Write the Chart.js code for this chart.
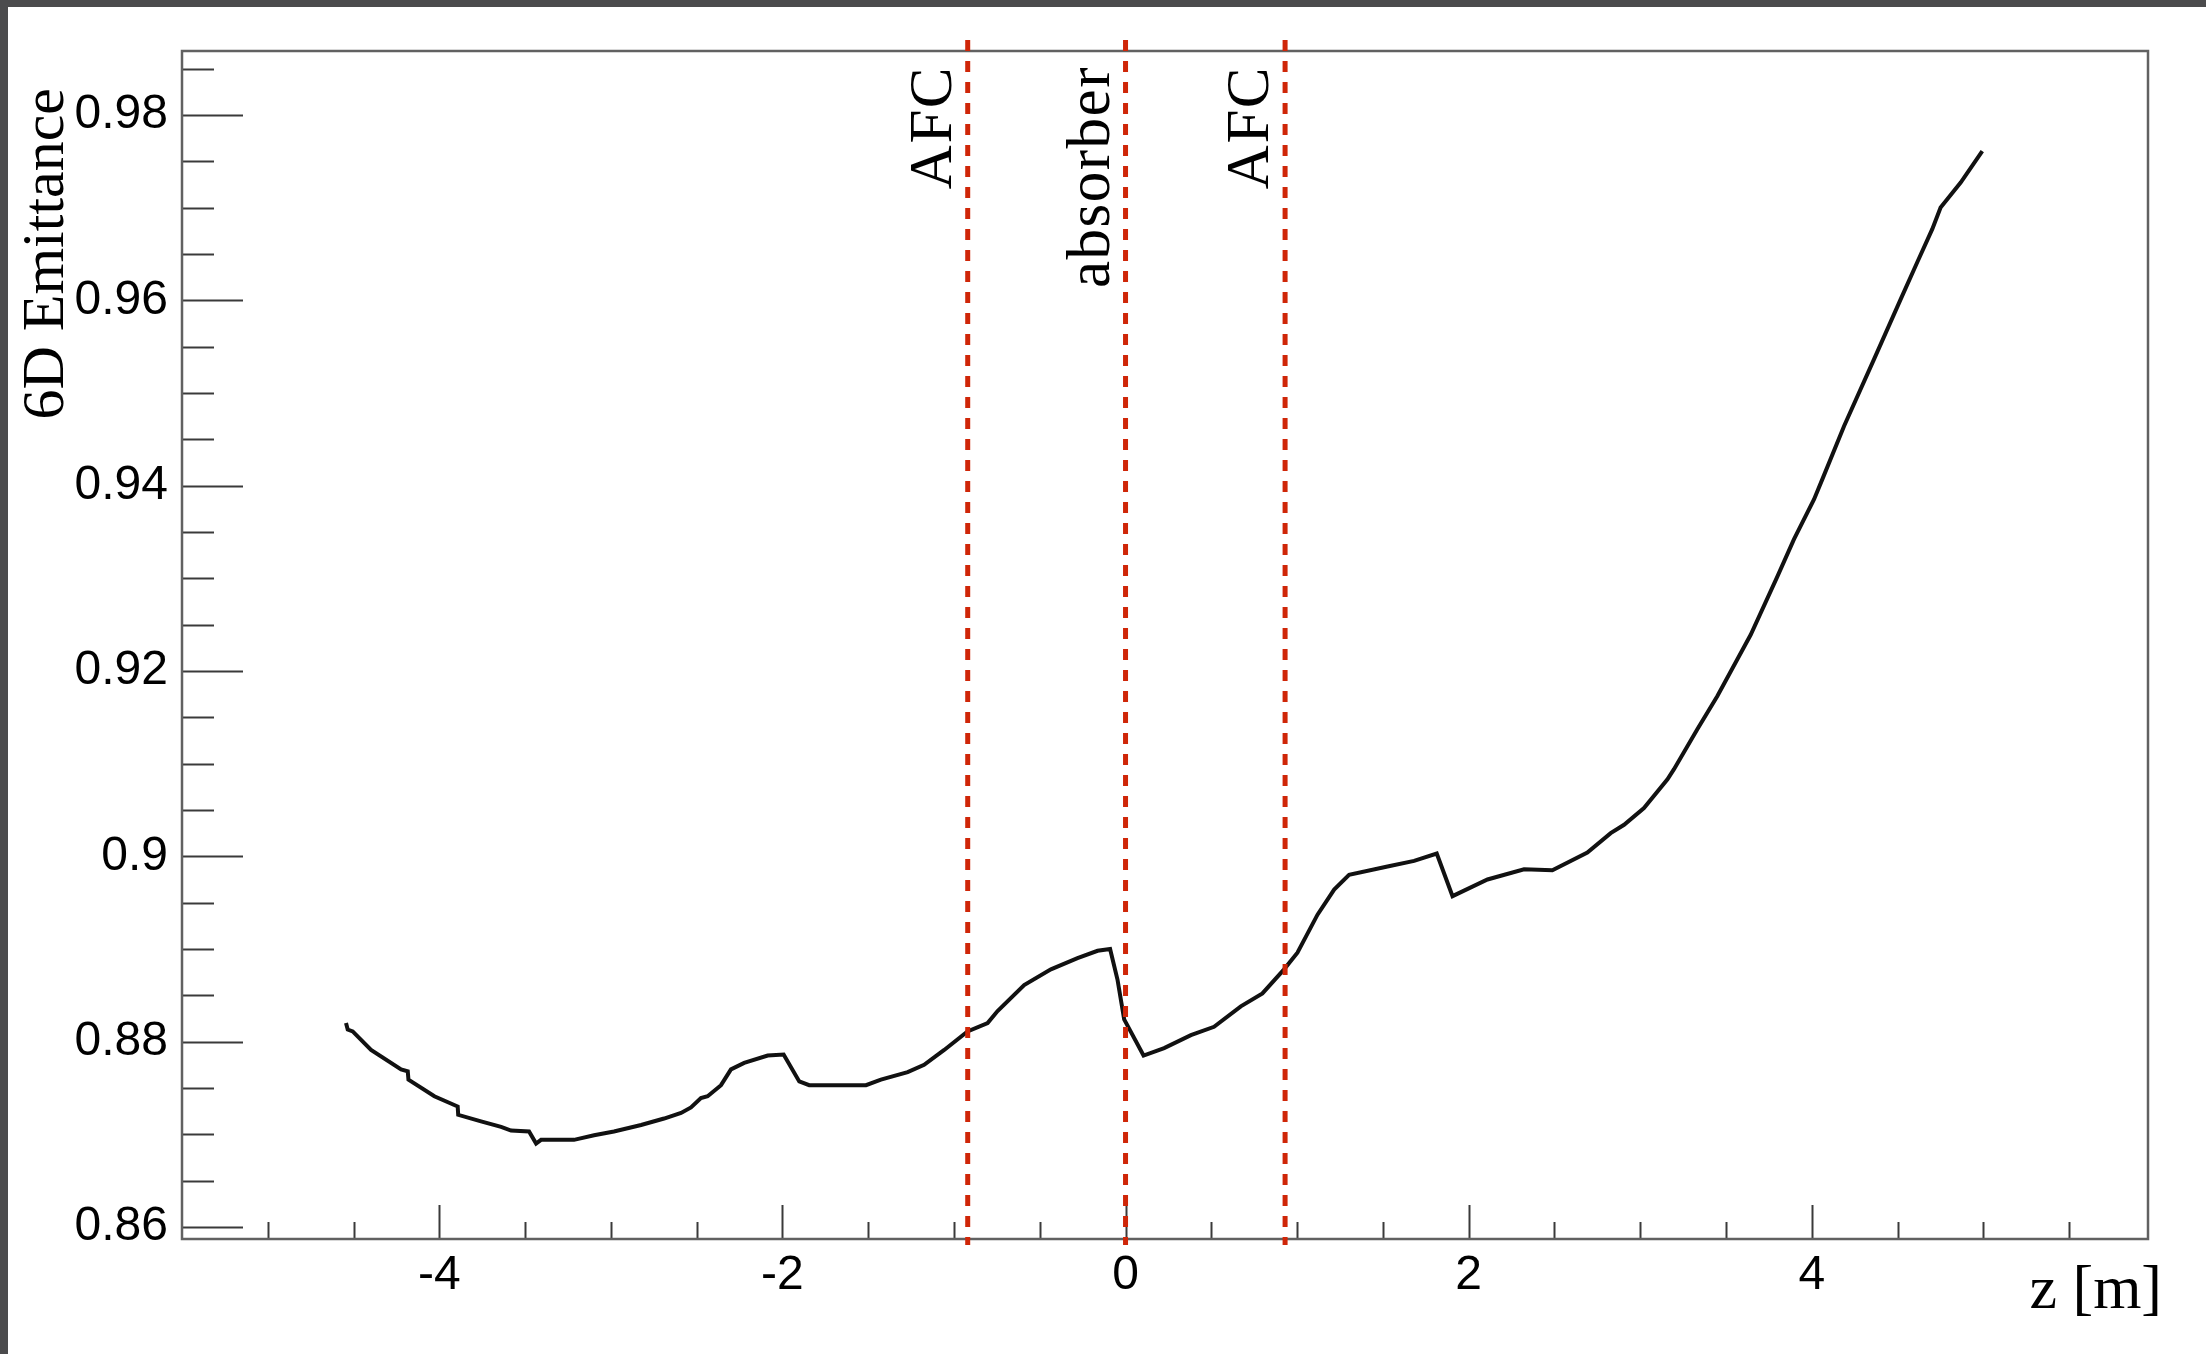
<!DOCTYPE html>
<html>
<head>
<meta charset="utf-8">
<script src="https://cdn.jsdelivr.net/npm/chart.js@4"></script>
<style>
  html, body { margin: 0; padding: 0; background: #fff; }
  #emitChart { display: block; }
</style>
</head>
<body>
<canvas id="emitChart" width="2206" height="1354"></canvas>
<script>
// emittance along the channel, z in metres
const zPos = [
  -4.544, -4.534, -4.505, -4.398, -4.223, -4.184, -4.180, -4.029, -3.893, -3.890,
  -3.757, -3.640, -3.582, -3.477, -3.436, -3.407, -3.215, -3.098, -2.982, -2.824,
  -2.690, -2.591, -2.533, -2.475, -2.436, -2.358, -2.300, -2.223, -2.086, -1.993,
  -1.902, -1.844, -1.513, -1.426, -1.270, -1.174, -1.057, -0.921, -0.804, -0.746,
  -0.591, -0.435, -0.280, -0.163, -0.090, -0.047, -0.008, 0.105, 0.225, 0.381,
  0.516, 0.672, 0.798, 0.924, 1.002, 1.119, 1.216, 1.303, 1.527, 1.682,
  1.814, 1.906, 2.110, 2.323, 2.488, 2.692, 2.828, 2.906, 3.022, 3.159,
  3.197, 3.333, 3.450, 3.644, 3.800, 3.896, 4.013, 4.062, 4.188, 4.362,
  4.518, 4.615, 4.703, 4.751, 4.868, 4.994
];
const emittance = [
  0.8820, 0.8813, 0.8811, 0.8791, 0.8770, 0.8768, 0.8759, 0.8741, 0.8730, 0.8721,
  0.8714, 0.8708, 0.8704, 0.8703, 0.8690, 0.8694, 0.8694, 0.8699, 0.8703, 0.8710,
  0.8717, 0.8723, 0.8729, 0.8739, 0.8741, 0.8753, 0.8770, 0.8777, 0.8785, 0.8786,
  0.8757, 0.8753, 0.8753, 0.8759, 0.8767, 0.8775, 0.8791, 0.8811, 0.8820, 0.8833,
  0.8861, 0.8878, 0.8890, 0.8898, 0.8900, 0.8867, 0.8824, 0.8785, 0.8793, 0.8807,
  0.8816, 0.8838, 0.8852, 0.8878, 0.8896, 0.8937, 0.8964, 0.8980, 0.8989, 0.8995,
  0.9003, 0.8957, 0.8975, 0.8986, 0.8985, 0.9004, 0.9025, 0.9034, 0.9052, 0.9083,
  0.9094, 0.9137, 0.9173, 0.9239, 0.9302, 0.9342, 0.9385, 0.9407, 0.9464, 0.9536,
  0.9601, 0.9641, 0.9677, 0.9700, 0.9727, 0.9761
];

const xTickValues = [-4, -2, 0, 2, 4];
const yTickValues = [0.86, 0.88, 0.9, 0.92, 0.94, 0.96, 0.98];

// element positions drawn as dashed markers
const markerZ = [-0.92, 0, 0.93];
const markerNames = ['AFC', 'absorber', 'AFC'];

const xTitle = 'z [m]';
const yTitle = '6D Emittance';

const serif = '"Liberation Serif", "DejaVu Serif", serif';
const sans = '"Liberation Sans", Arial, sans-serif';

const rootFrame = {
    id: 'rootFrame',
    beforeDraw(chart) {
        const c = chart.ctx;
        c.save();
        c.fillStyle = '#ffffff';
        c.fillRect(0, 0, chart.width, chart.height);
        // dark strip along top and left edge
        c.fillStyle = '#4b4b4d';
        c.fillRect(0, 0, chart.width, 7);
        c.fillRect(0, 0, 8, chart.height);
        c.restore();
    },
    afterDraw(chart) {
        const c = chart.ctx;
        const a = chart.chartArea;
        const x = chart.scales.x;
        const y = chart.scales.y;
        c.save();

        // inward tick marks on the left axis (0.005 steps, major every 0.02)
        c.strokeStyle = '#3a3a3a';
        c.lineWidth = 2;
        for (let k = 0; k <= 25; k++) {
            const v = 0.86 + k * 0.005;
            const py = Math.round(y.getPixelForValue(v)) + 0.5;
            const len = k % 4 === 0 ? 61 : 32;
            c.beginPath();
            c.moveTo(a.left, py);
            c.lineTo(a.left + len, py);
            c.stroke();
        }
        // inward tick marks on the bottom axis (0.5 steps, major every 2)
        for (let k = -10; k <= 11; k++) {
            const px = Math.round(x.getPixelForValue(k * 0.5)) + 0.5;
            const len = k % 4 === 0 ? 34 : 17;
            c.beginPath();
            c.moveTo(px, a.bottom);
            c.lineTo(px, a.bottom - len);
            c.stroke();
        }

        // frame
        c.strokeStyle = '#616161';
        c.lineWidth = 2.5;
        c.strokeRect(a.left, a.top, a.right - a.left, a.bottom - a.top);

        // dashed markers with their names
        markerZ.forEach((z, i) => {
            const px = x.getPixelForValue(z);
            c.strokeStyle = '#cf2608';
            c.lineWidth = 5;
            c.setLineDash([11, 10]);
            c.beginPath();
            c.moveTo(px, a.top - 11);
            c.lineTo(px, a.bottom + 6);
            c.stroke();
            c.setLineDash([]);

            c.save();
            c.translate(px - 17, 66);
            c.rotate(-Math.PI / 2);
            c.fillStyle = '#000';
            c.font = '61px ' + serif;
            c.letterSpacing = '1.5px';
            c.textAlign = 'right';
            c.textBaseline = 'alphabetic';
            c.fillText(markerNames[i], 0, 0);
            c.restore();
        });

        // axis titles
        c.fillStyle = '#000';
        c.font = '62px ' + serif;
        c.textAlign = 'right';
        c.textBaseline = 'alphabetic';
        c.fillText(xTitle, 2162, 1308);

        c.save();
        c.translate(63, 88);
        c.rotate(-Math.PI / 2);
        c.font = '60px ' + serif;
        c.textAlign = 'right';
        c.fillText(yTitle, 0, 0);
        c.restore();

        c.restore();
    }
};

const fmt = v => String(+Number(v).toFixed(2));

const config = {
    type: 'line',
    data: {
        datasets: [{
            label: yTitle,
            data: zPos.map((z, i) => ({ x: z, y: emittance[i] })),
            borderColor: '#111111',
            borderWidth: 4,
            pointRadius: 0,
            tension: 0,
            fill: false
        }]
    },
    options: {
        responsive: false,
        animation: false,
        devicePixelRatio: 1,
        layout: { padding: { left: 0, top: 51, right: 58, bottom: 0 } },
        plugins: {
            legend: { display: false },
            tooltip: { enabled: false }
        },
        scales: {
            x: {
                type: 'linear',
                min: -5.5,
                max: 5.96,
                grid: { display: false, drawTicks: false },
                border: { display: false },
                afterFit: s => { s.height = 115; },
                afterBuildTicks: s => { s.ticks = xTickValues.map(v => ({ value: v })); },
                ticks: {
                    padding: 8,
                    maxRotation: 0,
                    color: '#000',
                    font: { family: sans, size: 48 },
                    callback: fmt
                }
            },
            y: {
                type: 'linear',
                min: 0.8587,
                max: 0.9869,
                grid: { display: false, drawTicks: false },
                border: { display: false },
                afterFit: s => { s.width = 182; },
                afterBuildTicks: s => { s.ticks = yTickValues.map(v => ({ value: v })); },
                ticks: {
                    padding: 14,
                    color: '#000',
                    font: { family: sans, size: 48 },
                    callback: fmt
                }
            }
        }
    },
    plugins: [rootFrame]
};

new Chart(document.getElementById('emitChart'), config);
</script>
</body>
</html>
